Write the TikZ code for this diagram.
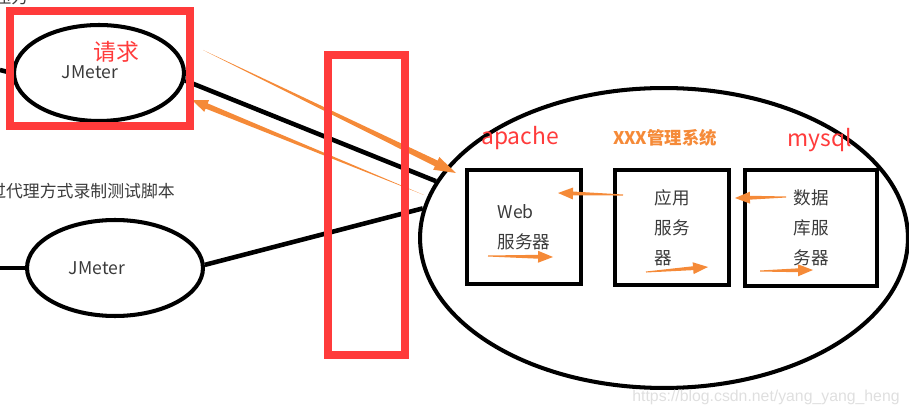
\documentclass[tikz,border=0pt]{standalone}
\usepackage{fontspec}
\setmainfont{Noto Sans CJK SC}
\newfontfamily\wmfont{Liberation Sans}
\usetikzlibrary{shapes.geometric,calc}

\definecolor{hlred}{HTML}{FF3B3B}
\definecolor{arrorange}{HTML}{F58A38}
\definecolor{txtgray}{HTML}{3A3A3A}

\newcommand{\taper}[6]{%
  \coordinate (tb) at ($(#2)!#5!(#1)$);
  \fill[orarrow] ($(#1)!#3!90:(#2)$) -- ($(tb)!#4!90:(#2)$) -- ($(tb)!#6!90:(#2)$) -- (#2)
    -- ($(tb)!#6!-90:(#2)$) -- ($(tb)!#4!-90:(#2)$) -- ($(#1)!#3!-90:(#2)$) -- cycle;}

\begin{document}
\begin{tikzpicture}[
    x=0.02cm, y=-0.02cm,
    oval/.style={ellipse, draw, line width=2.3pt, inner sep=0pt},
    wire/.style={line width=2.6pt},
    srvbox/.style={draw, line width=2.8pt, align=left, text=txtgray, font=\fontsize{10}{17}\selectfont},
    hlbox/.style={draw=hlred, line width=4pt},
    tag/.style={font=\fontsize{13}{13}\selectfont, text=hlred},
    orarrow/.style={fill=arrorange},
    lbl/.style={text=txtgray, font=\fontsize{10}{10}\selectfont}
]
    \useasboundingbox (0,0) rectangle (909,415);
    \clip (0,0) rectangle (909,415);

    \node[oval, minimum width=3.4cm, minimum height=1.92cm] (jm1) at (99,73) {};
    \node[oval, minimum width=3.52cm, minimum height=1.92cm] (jm2) at (115,268) {};
    \node[oval, minimum width=9.76cm, minimum height=6cm] (srv) at (664,238) {};

    \node[srvbox, minimum width=2.28cm, minimum height=2.28cm] (web) at (524,227) {Web\\服务器};
    \node[srvbox, minimum width=2.28cm, minimum height=2.3cm] (app) at (672,227.5) {应用\\服务\\器};
    \node[srvbox, minimum width=2.64cm, minimum height=2.32cm] (db) at (811,228) {数据\\库服\\务器};

    \node[lbl] (jm1txt) at (90,72) {JMeter};
    \node[lbl] (jm2txt) at (97,268) {JMeter};
    \node[tag] (req) at (116,52) {请求};
    \node[lbl, anchor=east, font=\fontsize{9.3}{10}\selectfont] (cap1) at (34,-3) {模拟压力};
    \node[lbl, anchor=east, font=\fontsize{9.6}{10}\selectfont] (cap2) at (181,191) {通过代理方式录制测试脚本};

    \node[tag] (apache) at (520,138) {apache};
    \node[font=\bfseries\fontsize{9.9}{10}\selectfont, text=arrorange] (sys) at (665,138) {XXX管理系统};
    \node[tag] (mysql) at (820,140) {mysql};
    \node[text=gray!25, font=\wmfont\fontsize{9}{9}\selectfont] (wm) at (766,397) {https://blog.csdn.net/yang\_yang\_heng};

    \coordinate (in1) at (0,70);
    \coordinate (in2) at (0,268);
    \draw[wire] (in1) -- (jm1.180);
    \draw[wire] (in2) -- (jm2.west);
    \draw[wire] (jm1.-5) -- (srv.166);
    \draw[wire] (jm2.2) -- (srv.173);

    \coordinate (rq-s) at (203,50);  \coordinate (rq-e) at (456,173);
    \coordinate (rs-s) at (424,195); \coordinate (rs-e) at (192,100);
    \coordinate (w-s) at (488,256);  \coordinate (w-e) at (553,257);
    \coordinate (a-s) at (623,195);  \coordinate (a-e) at (558,193);
    \coordinate (ab-s) at (646,272); \coordinate (ab-e) at (708,267);
    \coordinate (d-s) at (786,197);  \coordinate (d-e) at (735,198);
    \coordinate (db-s) at (760,271); \coordinate (db-e) at (813,270);

    \taper{rq-s}{rq-e}{0pt}{1.8pt}{12.5pt}{4pt}
    \taper{rs-s}{rs-e}{0pt}{1.6pt}{9pt}{3.6pt}
    \taper{w-s}{w-e}{0.3pt}{1.1pt}{8.5pt}{3.4pt}
    \taper{a-s}{a-e}{0.3pt}{1.1pt}{8.5pt}{3.4pt}
    \taper{ab-s}{ab-e}{0.3pt}{1.1pt}{8.5pt}{3.4pt}
    \taper{d-s}{d-e}{0.3pt}{1.1pt}{8.5pt}{3.4pt}
    \taper{db-s}{db-e}{0.3pt}{1.1pt}{8.5pt}{3.4pt}

    \draw[hlbox] (10,11) rectangle (190,126);
    \draw[hlbox] (328,55) rectangle (405,355);
\end{tikzpicture}
\end{document}
